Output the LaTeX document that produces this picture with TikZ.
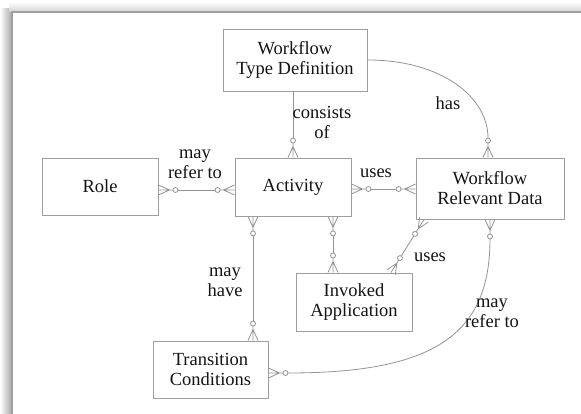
\documentclass[tikz,border=0pt]{standalone}
\usepackage{fontspec}
\setmainfont{Liberation Serif}
\newfontfamily\tnr{Liberation Serif}
\usetikzlibrary{arrows.meta}

\pgfdeclarearrow{
  name = CrowO,
  setup code = {
    \pgfarrowssettipend{0pt}
    \pgfarrowssetlineend{-19.5pt}
    \pgfarrowssetbackend{-19.5pt}
    \pgfarrowssetvisualbackend{-19.5pt}
  },
  drawing code = {
    \pgfsetdash{}{0pt}
    \pgfpathcircle{\pgfqpoint{-17pt}{0pt}}{2.5pt}
    \pgfpathmoveto{\pgfqpoint{-14.5pt}{0pt}}
    \pgfpathlineto{\pgfqpoint{0pt}{0pt}}
    \pgfpathmoveto{\pgfqpoint{0pt}{5pt}}
    \pgfpathlineto{\pgfqpoint{-11pt}{0pt}}
    \pgfpathlineto{\pgfqpoint{0pt}{-5pt}}
    \pgfusepathqstroke
  }
}

\definecolor{boxline}{gray}{0.62}
\definecolor{relline}{gray}{0.58}
\definecolor{txt}{gray}{0.08}

\tikzset{
  entity/.style={draw=boxline, line width=0.9pt, inner sep=0pt, align=center,
    text=txt, font=\tnr\fontsize{18.5}{20}\selectfont},
  rel/.style={draw=relline, line width=0.8pt},
  lbl/.style={inner sep=0pt, align=center, text=txt, font=\tnr\fontsize{18.5}{20}\selectfont}
}

\begin{document}
\begin{tikzpicture}[x=1pt,y=-1pt]
\useasboundingbox (0,0) rectangle (581,414);
\fill[white] (0,0) rectangle (581,414);
% window shadow and frame
\shade[left color=white, right color=gray!70] (0,9) rectangle (12,414);
\shade[top color=white, bottom color=gray!35] (9,2) rectangle (581,12);
\draw[gray!75, line width=1.3pt] (12,414) -- (12,12) -- (581,12);

% entities
\node[entity, minimum width=144pt, minimum height=62pt] (wtd) at (295,60) {Workflow\\Type Definition};
\node[entity, minimum width=116pt, minimum height=57pt] (role) at (100,186.5) {Role};
\node[entity, minimum width=116pt, minimum height=58pt] (act) at (293,187) {Activity};
\node[entity, minimum width=148pt, minimum height=61pt] (wrd) at (490,188.5) {Workflow\\Relevant Data};
\node[entity, minimum width=116pt, minimum height=58pt] (ia) at (354,302) {Invoked\\Application};
\node[entity, minimum width=115pt, minimum height=57pt] (tc) at (210.5,369.5) {Transition\\Conditions};

% helper coordinates
\coordinate (ra) at (0,190);
\coordinate (aw) at (0,189);
\coordinate (at) at (253,0);
\coordinate (ai) at (333,0);
\coordinate (iw1) at (391,0);
\coordinate (iw2) at (424,0);
\coordinate (wt) at (0,373);

% relations
\draw[rel,-CrowO] (act.north |- wtd.south) -- (act.north);
\draw[rel,-CrowO] (wtd.east) .. controls +(75,0) and +(0,-60) .. ([xshift=-2pt]wrd.north);
\draw[rel,CrowO-CrowO] (role.east |- ra) -- (act.west |- ra);
\draw[rel,CrowO-CrowO] (act.east |- aw) -- (wrd.west |- aw);
\draw[rel,CrowO-CrowO] (act.south -| at) -- (tc.north -| at);
\draw[rel,CrowO-CrowO] (act.south -| ai) -- (ia.north -| ai);
\draw[rel,CrowO-CrowO] (ia.north -| iw1) -- (wrd.south -| iw2);
\draw[rel,CrowO-CrowO] (wrd.south) .. controls +(0,115) and +(166,0) .. (tc.east |- wt);

% labels
\node[lbl] (l1) at (322,122) {consists\\of};
\node[lbl] (l2) at (448,103) {has};
\node[lbl] (l3) at (195,164) {may\\refer to};
\node[lbl] (l4) at (376,173) {uses};
\node[lbl] (l5) at (430,257) {uses};
\node[lbl] (l6) at (225,282.5) {may\\have};
\node[lbl] (l7) at (492,313) {may\\refer to};
\end{tikzpicture}
\end{document}
